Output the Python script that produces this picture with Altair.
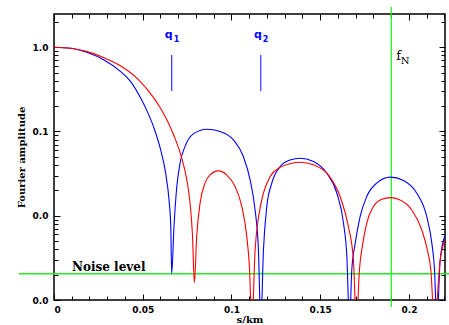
import altair as alt
import pandas as pd

# ---------------- data ----------------
blue_s = [0.0, 0.0094, 0.0188, 0.0282, 0.0376, 0.0432, 0.0489, 0.0526, 0.0564,
          0.0601, 0.0629, 0.0648, 0.0658, 0.0663,
          0.0676, 0.0692, 0.0710, 0.0738, 0.0785, 0.0861, 0.0936, 0.1011, 0.1067,
          0.1105, 0.1133, 0.1152, 0.1165,
          0.1180, 0.1199, 0.1227, 0.1274, 0.1330, 0.1387, 0.1462, 0.1537, 0.1594,
          0.1631, 0.1650, 0.1665,
          0.1678, 0.1697, 0.1725, 0.1762, 0.1818, 0.1894, 0.1969, 0.2044, 0.2100,
          0.2129, 0.2144, 0.2157,
          0.2176, 0.2204]
blue_amp = [1.0, 0.973, 0.865, 0.707, 0.514, 0.391, 0.248, 0.172, 0.109,
            0.0605, 0.032, 0.0154, 0.0074, 0.00205,
            0.0074, 0.0222, 0.042, 0.0662, 0.0937, 0.1065, 0.0997, 0.0795, 0.0504,
            0.0267, 0.0117, 0.0039, 0.0005,
            0.0039, 0.0129, 0.0244, 0.0384, 0.046, 0.0482, 0.044, 0.032, 0.0185,
            0.0082, 0.0033, 0.0005,
            0.0023, 0.0047, 0.0098, 0.0169, 0.0244, 0.0287, 0.0262, 0.0185, 0.0098,
            0.0047, 0.0023, 0.0005,
            0.003, 0.0059]

red_s = [0.0, 0.0094, 0.0188, 0.0282, 0.0376, 0.0470, 0.0564, 0.0601, 0.0639,
         0.0676, 0.0714, 0.0748, 0.0766, 0.0780, 0.0791,
         0.0804, 0.0823, 0.0851, 0.0879, 0.0926, 0.0973, 0.1020, 0.1058, 0.1086,
         0.1101, 0.1115,
         0.1133, 0.1153, 0.1180, 0.1218, 0.1274, 0.1330, 0.1387, 0.1462, 0.1546,
         0.1612, 0.1659, 0.1687, 0.1704,
         0.1721, 0.1740, 0.1762, 0.1800, 0.1847, 0.1894, 0.1950, 0.2016, 0.2072,
         0.2104, 0.2123, 0.2144,
         0.2176, 0.2204]
red_amp = [1.0, 0.972, 0.887, 0.75, 0.60, 0.425, 0.247, 0.187, 0.133,
           0.089, 0.053, 0.027, 0.0145, 0.006, 0.0016,
           0.0057, 0.0141, 0.0244, 0.0306, 0.0341, 0.0306, 0.0222, 0.0129, 0.0057,
           0.0025, 0.0005,
           0.0039, 0.0098, 0.0185, 0.0292, 0.0375, 0.0415, 0.0432, 0.0402, 0.0306,
           0.0169, 0.0074, 0.003, 0.0005,
           0.0023, 0.0047, 0.0082, 0.0129, 0.0157, 0.0164, 0.0154, 0.0117, 0.0068,
           0.0039, 0.0023, 0.0005,
           0.003, 0.0052]

q_pos = [0.0663, 0.1165]
q_subs = ["1", "2"]
q_tick_top = [0.81, 0.81]
q_tick_bottom = [0.303, 0.303]

noise_level = [0.00205]
f_nyquist = [0.19]

x_major = [0, 0.05, 0.1, 0.15, 0.2]
x_minor = [0.01, 0.02, 0.03, 0.04, 0.06, 0.07, 0.08, 0.09, 0.11, 0.12, 0.13,
           0.14, 0.16, 0.17, 0.18, 0.19, 0.21, 0.22]
y_major = [0.001, 0.01, 0.1, 1.0]
y_minor = [0.002, 0.003, 0.004, 0.005, 0.006, 0.007, 0.008, 0.009,
           0.02, 0.03, 0.04, 0.05, 0.06, 0.07, 0.08, 0.09,
           0.2, 0.3, 0.4, 0.5, 0.6, 0.7, 0.8, 0.9, 2.0]

# ---------------- tables ----------------
df_blue = pd.DataFrame({"s": blue_s, "amp": blue_amp})
df_red = pd.DataFrame({"s": red_s, "amp": red_amp})
df_q = pd.DataFrame({"q": q_pos, "sub": q_subs, "top": q_tick_top, "bot": q_tick_bottom})
df_noise = pd.DataFrame({"n": noise_level, "label": ["Noise level"]})
df_fn = pd.DataFrame({"f": f_nyquist})

xs = alt.Scale(domain=[0, 0.2203], nice=False, zero=False)
ys = alt.Scale(type="log", domain=[0.001, 2.48], nice=False)

LABEL_FONT = "DejaVu Sans"
TITLE_FONT = "DejaVu Serif"


def ax(orient, values, size, **kw):
    base = dict(orient=orient, values=values, tickSize=size, offset=-size,
                domain=False, grid=False, ticks=True, tickColor="black",
                tickWidth=1, labels=False, title=None)
    base.update(kw)
    return alt.Axis(**base)


bottom_major = ax("bottom", x_major, 6, labels=True, format="~g",
                  labelFont=LABEL_FONT, labelFontWeight="bold", labelFontSize=9,
                  labelColor="black", labelPadding=5, title="s/km",
                  titleFont=TITLE_FONT, titleFontWeight="bold", titleFontSize=10,
                  titleColor="black", titlePadding=0)
bottom_minor = ax("bottom", x_minor, 4)
top_major = ax("top", x_major, 6)
top_minor = ax("top", x_minor, 4)

left_major = ax("left", y_major, 6, labels=True, format=".1f",
                labelFont=LABEL_FONT, labelFontWeight="bold", labelFontSize=9,
                labelColor="black", labelPadding=6, title="Fourier amplitude",
                titleFont=TITLE_FONT, titleFontWeight="bold", titleFontSize=10,
                titleColor="black", titlePadding=6)
left_minor = ax("left", y_minor, 4)
right_major = ax("right", y_major, 6)
right_minor = ax("right", y_minor, 4)

GREEN = "#22ee22"

blue_line = alt.Chart(df_blue).mark_line(
    color="#0000ff", strokeWidth=1.1, clip=True, interpolate="monotone"
).encode(
    x=alt.X("s:Q", scale=xs, axis=bottom_major),
    y=alt.Y("amp:Q", scale=ys, axis=left_major),
)

red_line = alt.Chart(df_red).mark_line(
    color="#ff0000", strokeWidth=1.1, clip=True, interpolate="monotone"
).encode(
    x=alt.X("s:Q", scale=xs, axis=bottom_minor),
    y=alt.Y("amp:Q", scale=ys, axis=left_minor),
)

q_rules = alt.Chart(df_q).mark_rule(color="#3333ff", strokeWidth=1.2).encode(
    x=alt.X("q:Q", scale=xs, axis=top_major),
    y=alt.Y("top:Q", scale=ys, axis=right_major),
    y2="bot:Q",
)

noise_rule = alt.Chart(df_noise).mark_rule(color=GREEN, strokeWidth=1.3, clip=False).encode(
    y=alt.Y("n:Q", scale=ys, axis=right_minor),
    x=alt.value(-35),
    x2=alt.value(395),
)

fn_rule = alt.Chart(df_fn).mark_rule(color=GREEN, strokeWidth=1.3, clip=False).encode(
    x=alt.X("f:Q", scale=xs, axis=top_minor),
    y=alt.value(-7),
    y2=alt.value(293),
)

q_text = alt.Chart(df_q).mark_text(
    text="q", color="#0000ff", font=LABEL_FONT, fontWeight="bold", fontSize=11,
    align="right", baseline="alphabetic", dx=1
).encode(
    x=alt.X("q:Q", scale=xs, axis=None),
    y=alt.value(23.5),
)

q_sub = alt.Chart(df_q).mark_text(
    color="#0000ff", font=LABEL_FONT, fontWeight="bold", fontSize=8,
    align="left", baseline="alphabetic", dx=2
).encode(
    x=alt.X("q:Q", scale=xs, axis=None),
    y=alt.value(27.7),
    text="sub:N",
)

fn_f = alt.Chart(df_fn).mark_text(
    text="f", color="black", font=TITLE_FONT, fontSize=13,
    align="left", baseline="alphabetic", dx=5
).encode(
    x=alt.X("f:Q", scale=xs, axis=None),
    y=alt.value(46),
)

fn_n = alt.Chart(df_fn).mark_text(
    text="N", color="black", font=TITLE_FONT, fontSize=10,
    align="left", baseline="alphabetic", dx=9.5
).encode(
    x=alt.X("f:Q", scale=xs, axis=None),
    y=alt.value(49.5),
)

noise_text = alt.Chart(df_noise).mark_text(
    color="black", font=TITLE_FONT, fontWeight="bold", fontSize=12,
    align="left", baseline="alphabetic", dy=-3
).encode(
    x=alt.value(18),
    y=alt.Y("n:Q", scale=ys, axis=None),
    text="label:N",
)

chart = alt.layer(
    noise_rule, fn_rule, blue_line, red_line, q_rules,
    q_text, q_sub, fn_f, fn_n, noise_text
).resolve_axis(
    x="independent", y="independent"
).properties(
    width=391, height=286,
    autosize=alt.AutoSizeParams(type="none"),
    padding={"left": 54, "top": 14, "right": 4, "bottom": 25},
    background="white",
).configure_view(
    stroke="black", strokeWidth=1.5
)

chart.save("out.html", embed_options={"renderer": "svg", "actions": False})
